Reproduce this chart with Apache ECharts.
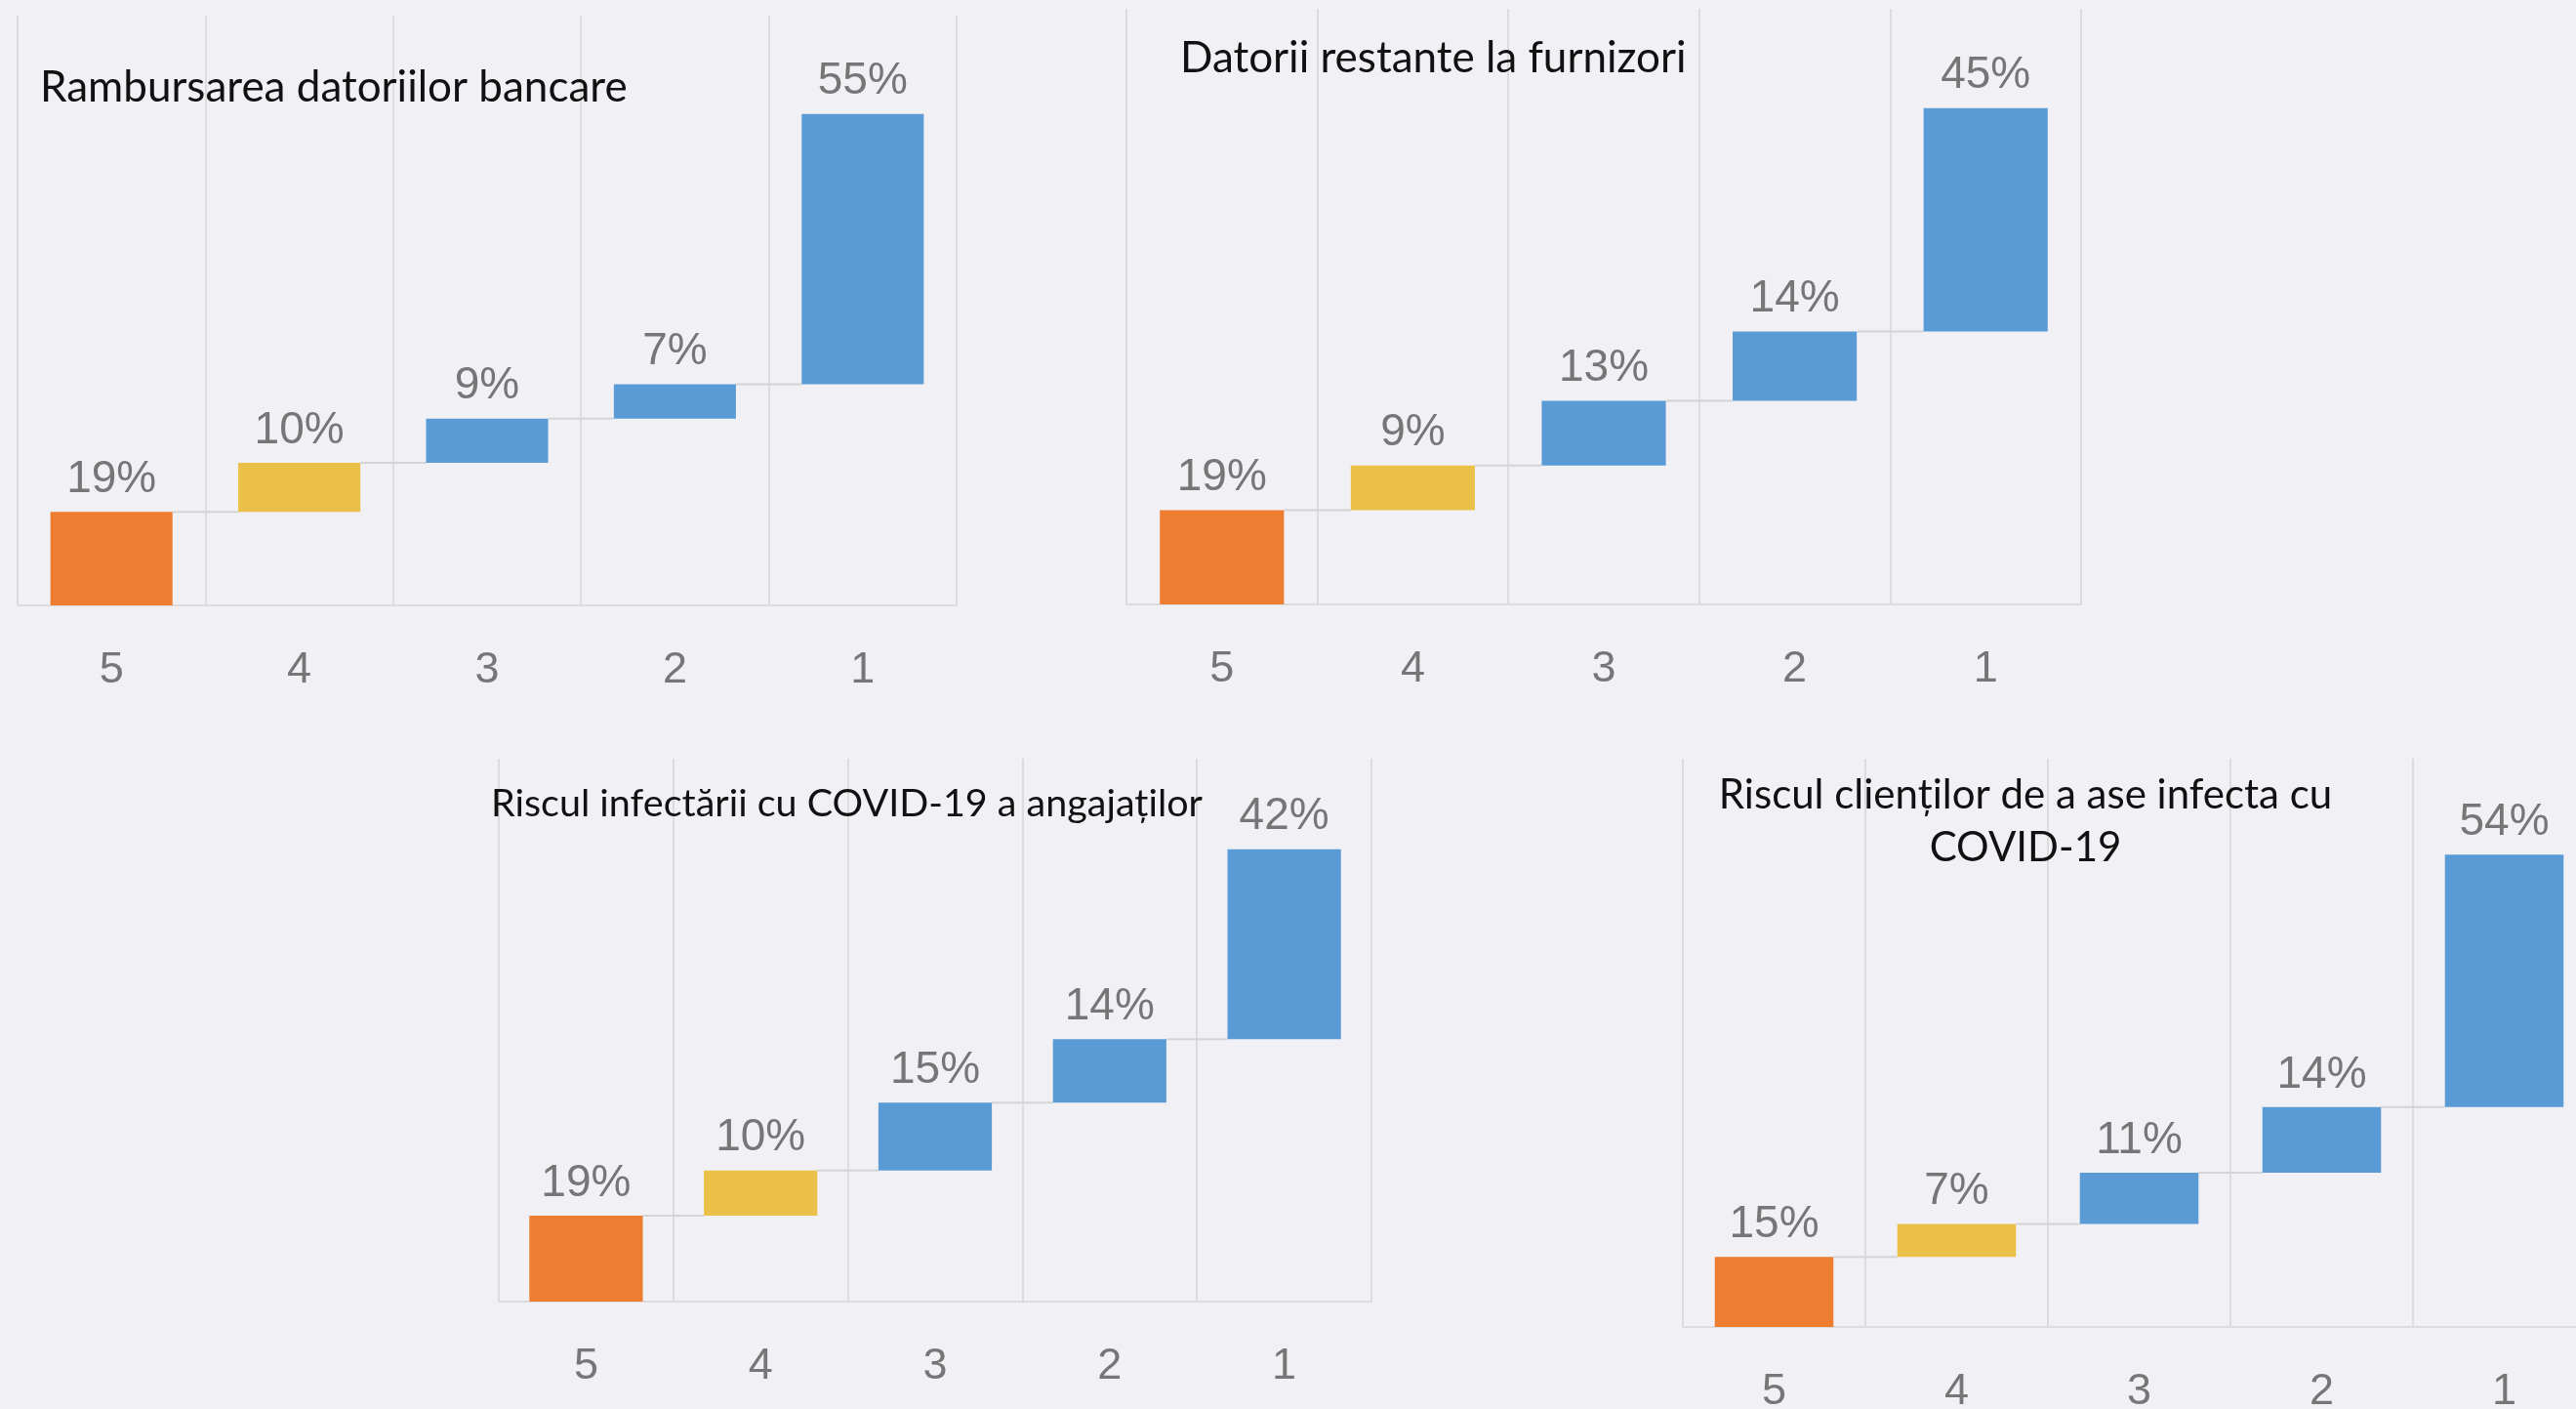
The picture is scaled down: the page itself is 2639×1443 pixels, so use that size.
<!DOCTYPE html>
<html>
<head>
<meta charset="utf-8">
<script src="https://cdn.jsdelivr.net/npm/echarts@6/dist/echarts.min.js"></script>
<style>
  html, body { margin: 0; padding: 0; background: #f1f0f5; }
  #main { width: 2639px; height: 1443px; }
</style>
</head>
<body>
<div id="main"></div>
<script>
var myChart = echarts.init(document.getElementById('main'));

var categories = ['5', '4', '3', '2', '1'];

var titles = [
  'Rambursarea datoriilor bancare',
  'Datorii restante la furnizori',
  'Riscul infectării cu COVID-19 a angajaților',
  'Riscul clienților de a ase infecta cu\nCOVID-19'
];

var values1 = [19, 10, 9, 7, 55];
var values2 = [19, 9, 13, 14, 45];
var values3 = [19, 10, 15, 14, 42];
var values4 = [15, 7, 11, 14, 54];
var allValues = [values1, values2, values3, values4];

// layout of the four panels (px)
var grids = [
  { left: 18, top: 16, width: 962, height: 604 },
  { left: 1154, top: 9, width: 978, height: 610 },
  { left: 511, top: 777, width: 894, height: 556 },
  { left: 1724, top: 777, width: 935, height: 582 }
];
var yMax = [120, 120, 120, 121.5];

var titlePos = [
  { left: 41, top: 63, size: 44, textAlign: 'left' },
  { left: 1209, top: 33, size: 44, textAlign: 'left' },
  { left: 503, top: 796, size: 39.5, textAlign: 'left' },
  { left: 2075, top: 787, size: 42, textAlign: 'center' }
];

var barColors = ['#ED7D31', '#EAC048', '#5B9BD5', '#5B9BD5', '#5B9BD5'];
var gridColor = '#dcdcdc';
var labelColor = '#767676';

var option = {
  backgroundColor: '#f1f0f5',
  animation: false,
  title: [],
  grid: [],
  xAxis: [],
  yAxis: [],
  series: []
};

allValues.forEach(function (vals, k) {
  // cumulative bases for the floating bars
  var base = [];
  var run = 0;
  vals.forEach(function (v) { base.push(run); run += v; });
  var connectors = [];
  for (var i = 0; i < vals.length - 1; i++) {
    connectors.push([i, base[i] + vals[i]]);
  }

  option.title.push({
    text: titles[k],
    left: titlePos[k].left,
    top: titlePos[k].top,
    textAlign: titlePos[k].textAlign,
    padding: 0,
    textStyle: {
      fontFamily: 'Lato',
      fontWeight: 'normal',
      fontSize: titlePos[k].size,
      lineHeight: 54,
      color: '#111111'
    }
  });

  option.grid.push(Object.assign({ outerBoundsMode: 'none', containLabel: false }, grids[k]));

  option.xAxis.push({
    type: 'category',
    gridIndex: k,
    data: categories,
    axisLine: { lineStyle: { color: gridColor, width: 2 } },
    axisTick: { show: false },
    axisLabel: {
      margin: 44,
      fontFamily: 'Liberation Sans',
      fontSize: 45,
      color: labelColor
    },
    splitLine: { show: true, lineStyle: { color: gridColor, width: 2 } }
  });

  option.yAxis.push({
    type: 'value',
    gridIndex: k,
    min: 0,
    max: yMax[k],
    axisLine: { show: false },
    axisTick: { show: false },
    axisLabel: { show: false },
    splitLine: { show: false }
  });

  option.series.push({
    type: 'bar',
    xAxisIndex: k,
    yAxisIndex: k,
    stack: 'wf' + k,
    barWidth: '65%',
    silent: true,
    itemStyle: { color: 'transparent' },
    data: base
  });

  option.series.push({
    type: 'bar',
    xAxisIndex: k,
    yAxisIndex: k,
    stack: 'wf' + k,
    barWidth: '65%',
    data: vals.map(function (v, i) {
      return { value: v, itemStyle: { color: barColors[i] } };
    }),
    label: {
      show: true,
      position: 'top',
      distance: 10,
      formatter: '{c}%',
      fontFamily: 'Liberation Sans',
      fontSize: 46,
      color: labelColor
    }
  });

  option.series.push({
    type: 'custom',
    xAxisIndex: k,
    yAxisIndex: k,
    silent: true,
    data: connectors,
    renderItem: function (params, api) {
      var i = api.value(0);
      var level = api.value(1);
      var p0 = api.coord([i, level]);
      var p1 = api.coord([i + 1, level]);
      var half = api.size([1, 0])[0] * 0.65 / 2;
      return {
        type: 'line',
        shape: { x1: p0[0] + half, y1: p0[1], x2: p1[0] - half, y2: p1[1] },
        style: { stroke: '#d4d4d4', lineWidth: 2 }
      };
    }
  });
});

myChart.setOption(option);
</script>
</body>
</html>
